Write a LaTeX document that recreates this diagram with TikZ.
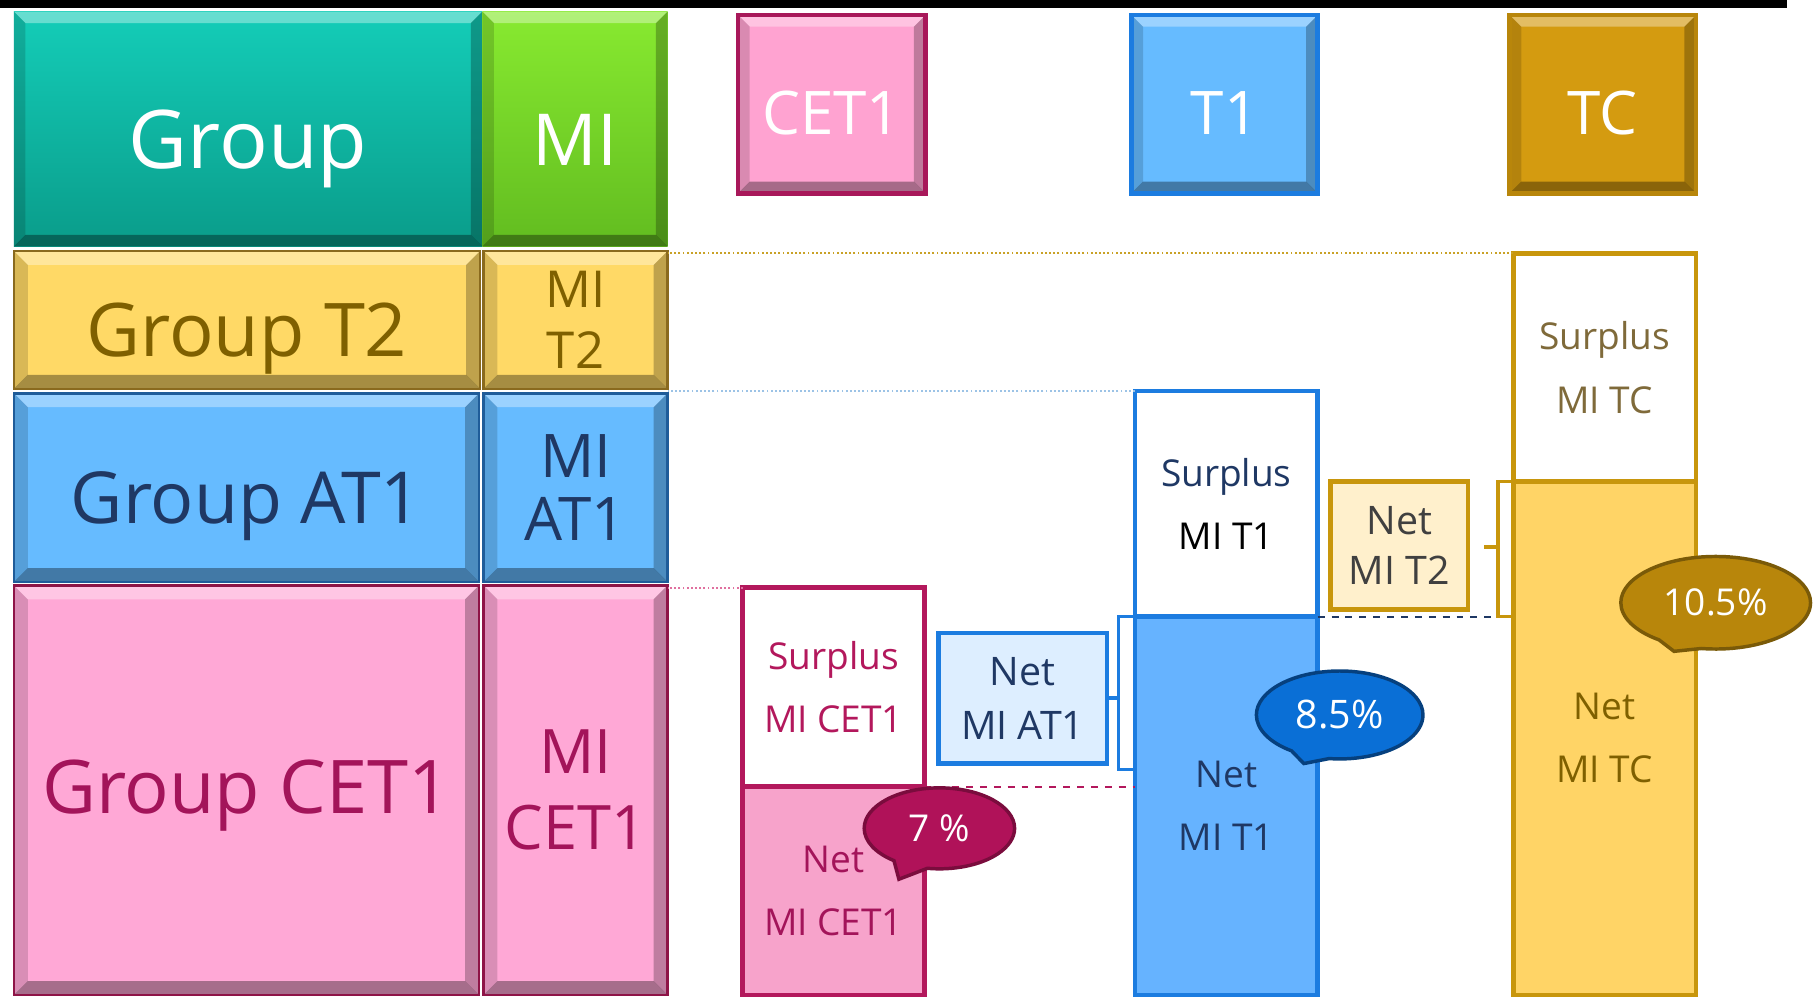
\documentclass[tikz,border=0pt]{standalone}
\usepackage{fontspec}
\setmainfont{Open Sans}
\usetikzlibrary{shapes.callouts,calc}
\definecolor{tealT}{HTML}{14CDB8}\definecolor{tealB}{HTML}{0A9C8A}
\definecolor{grnT}{HTML}{88EA30}\definecolor{grnB}{HTML}{62BC20}
\definecolor{goldF}{HTML}{FFD966}\definecolor{goldD}{HTML}{8A6A1E}\definecolor{goldTx}{HTML}{7F6000}
\definecolor{blueF}{HTML}{66BBFF}\definecolor{blueD}{HTML}{1F5C99}\definecolor{blueTx}{HTML}{1F3864}
\definecolor{pinkF}{HTML}{FFA8D6}\definecolor{pinkD}{HTML}{8E1447}\definecolor{pinkTx}{HTML}{A3145A}
\definecolor{hPinkF}{HTML}{FFA3D1}\definecolor{hPinkD}{HTML}{A8185A}
\definecolor{hBlueD}{HTML}{1C7CE0}
\definecolor{hGoldF}{HTML}{D49B10}\definecolor{hGoldD}{HTML}{B8860B}
\definecolor{sPink}{HTML}{B3185C}\definecolor{nPinkF}{HTML}{F7A3CB}
\definecolor{nAtF}{HTML}{DDEEFF}\definecolor{nT1F}{HTML}{66B3FF}
\definecolor{tGold}{HTML}{C8960C}\definecolor{nT2F}{HTML}{FFF0CC}\definecolor{nT2Tx}{HTML}{404040}
\definecolor{sTcTx}{HTML}{7F6A3A}\definecolor{nTcF}{HTML}{FFD466}
\definecolor{c7F}{HTML}{B01259}\definecolor{c7D}{HTML}{7A0C3D}
\definecolor{c8F}{HTML}{0A6FD6}\definecolor{c8D}{HTML}{06407E}
\definecolor{c10F}{HTML}{B8860B}\definecolor{c10D}{HTML}{7A5A08}
\definecolor{dotGold}{HTML}{C9A227}\definecolor{dotBlue}{HTML}{9CC3E6}\definecolor{dotPink}{HTML}{E0709F}
\newcommand\bx[7][]{%
 \pgfmathsetmacro\bxw{(#5-#3)/2}%
 \pgfmathsetmacro\bxh{(#6-#4)/2}%
 \node[#1,minimum width=\bxw pt,minimum height=\bxh pt,anchor=north west] (#2) at (#3,#4) {#7};}
\tikzset{
 bevel/.style={path picture={
   \path (path picture bounding box.north west) coordinate (bvnw)
         (path picture bounding box.north east) coordinate (bvne)
         (path picture bounding box.south west) coordinate (bvsw)
         (path picture bounding box.south east) coordinate (bvse);
   \fill[white,opacity=.35] (bvnw) -- (bvne) -- ([shift={(-#1,-#1)}]bvne) -- ([shift={(#1,-#1)}]bvnw) -- cycle;
   \fill[black,opacity=.35] (bvsw) -- (bvse) -- ([shift={(-#1,#1)}]bvse) -- ([shift={(#1,#1)}]bvsw) -- cycle;
   \fill[black,opacity=.15] (bvnw) -- ([shift={(#1,-#1)}]bvnw) -- ([shift={(#1,#1)}]bvsw) -- (bvsw) -- cycle;
   \fill[black,opacity=.25] (bvne) -- ([shift={(-#1,-#1)}]bvne) -- ([shift={(-#1,#1)}]bvse) -- (bvse) -- cycle;
 }},
 bevel/.default=5pt,
 cell/.style={rectangle,inner sep=0pt,outer sep=0pt,align=center},
 flat/.style={cell,line width=2pt},
 callbub/.style={ellipse callout,inner sep=0pt,callout pointer arc=28,line width=1.5pt,text=white,font=\fontsize{16}{20}\selectfont},
 small/.style={font=\fontsize{16}{27.5}\selectfont},
}
\begin{document}
\begin{tikzpicture}[x=0.5pt,y=-0.5pt]
\useasboundingbox (0,0) rectangle (1568,862);
\fill[black] (0,0) rectangle (1545,7);
% left stack
\bx[cell,bevel,top color=tealT,bottom color=tealB,text=white,font=\fontsize{35}{40}\selectfont,text height=34.5pt,text depth=0pt]{grp}{12}{10}{417}{213}{Group}
\bx[cell,bevel,top color=grnT,bottom color=grnB,text=white,font=\fontsize{31}{36}\selectfont,text height=31.6pt,text depth=0pt]{mi}{417}{10}{577}{213}{MI}
\bx[cell,bevel=6pt,fill=goldF,draw=goldD,line width=1pt,text=goldTx,font=\fontsize{32}{36}\selectfont,text height=31.4pt,text depth=0pt]{gt2}{12}{217}{415}{336}{Group T2}
\bx[cell,bevel=6pt,fill=goldF,draw=goldD,line width=1pt,text=goldTx,font=\fontsize{22}{26}\selectfont]{mit2}{418}{217}{577}{336}{MI\\T2}
\bx[cell,bevel=6pt,fill=blueF,draw=blueD,line width=1pt,text=blueTx,font=\fontsize{31}{36}\selectfont,text height=30.6pt,text depth=0pt]{gat1}{12}{340}{414}{503}{Group AT1}
\bx[cell,bevel=6pt,fill=blueF,draw=blueD,line width=1pt,text=blueTx,font=\fontsize{26}{27.5}\selectfont]{miat1}{418}{340}{577}{503}{MI\\AT1}
\bx[cell,bevel=6pt,fill=pinkF,draw=pinkD,line width=1pt,text=pinkTx,font=\fontsize{32}{36}\selectfont,text height=20pt,text depth=0pt]{gcet1}{12}{506}{414}{860}{Group CET1}
\bx[cell,bevel=6pt,fill=pinkF,draw=pinkD,line width=1pt,text=pinkTx,font=\fontsize{26.5}{33}\selectfont]{micet1}{418}{506}{577}{860}{MI\\CET1}
% headers
\bx[cell,bevel,fill=hPinkF,draw=hPinkD,line width=2pt,text=white,font=\fontsize{26}{30}\selectfont,text height=26.6pt,text depth=0pt]{hcet1}{638}{13}{800}{167}{CET1}
\bx[cell,bevel,fill=blueF,draw=hBlueD,line width=2pt,text=white,font=\fontsize{26}{30}\selectfont,text height=26.6pt,text depth=0pt]{ht1}{978}{13}{1139}{167}{T1}
\bx[cell,bevel,fill=hGoldF,draw=hGoldD,line width=2pt,text=white,font=\fontsize{26}{30}\selectfont,text height=26.6pt,text depth=0pt]{htc}{1305}{13}{1466}{167}{TC}
% columns
\bx[flat,fill=white,draw=sPink,text=sPink,small]{scet1}{642}{508}{799}{680}{Surplus\\MI CET1}
\bx[flat,fill=nPinkF,draw=sPink,text=pinkTx,small]{ncet1}{642}{680}{799}{860}{Net\\MI CET1}
\bx[flat,fill=nAtF,draw=hBlueD,text=blueTx,font=\fontsize{17}{23.5}\selectfont]{nat1}{811}{547}{957}{660}{Net\\MI AT1}
\bx[flat,fill=white,draw=hBlueD,small]{st1}{981}{338}{1139}{533}{\textcolor{blueTx}{Surplus}\\\textcolor{black}{MI T1}}
\bx[flat,fill=nT1F,draw=hBlueD,text=blueTx,small]{nt1}{981}{533}{1139}{860}{Net\\MI T1}
\bx[flat,fill=nT2F,draw=tGold,text=nT2Tx,font=\fontsize{17}{22}\selectfont]{nt2}{1150}{416}{1269}{527}{Net\\MI T2}
\bx[flat,fill=white,draw=tGold,text=sTcTx,small]{stc}{1308}{219}{1466}{416}{Surplus\\MI TC}
\bx[flat,fill=nTcF,draw=tGold,text=goldTx,small]{ntc}{1308}{416}{1466}{860}{Net\\MI TC}
% guide lines
\draw[dotGold,densely dotted,line width=0.8pt] (stc.north west) -- (stc.north west -| mit2.east);
\draw[dotBlue,densely dotted,line width=0.8pt] (st1.north west) -- (st1.north west -| miat1.east);
\draw[dotPink,densely dotted,line width=0.8pt] (scet1.north west) -- (scet1.north west -| micet1.east);
\draw[sPink,dashed,line width=0.8pt] (scet1.south east) -- (scet1.south east -| nt1.west);
\draw[blueTx,dashed,line width=0.8pt] (st1.south east) -- ($(st1.south east -| ntc.west)+(-12,0)$);
% brackets
\draw[hBlueD,line width=1.5pt] (nt1.north west) -- ++(-14,0) -- ++(0,132) -- ++(14,0);
\draw[hBlueD,line width=1.5pt] (nat1.east) -- ++(10,0);
\draw[tGold,line width=1.5pt] (ntc.north west) -- ++(-13,0) -- ++(0,117) -- ++(13,0);
\draw[tGold,line width=1.5pt] ($(ntc.north west)+(-13,57)$) -- ++(-12,0);
% callouts
\node[callbub,fill=c7F,draw=c7D,minimum width=65pt,minimum height=35pt,callout absolute pointer={(777,760)}] (p7) at (812,716) {7 \%};
\node[callbub,fill=c8F,draw=c8D,minimum width=72pt,minimum height=38pt,font=\fontsize{17}{20}\selectfont,callout absolute pointer={(1127,660)}] (p85) at (1158,618) {8.5\%};
\node[callbub,fill=c10F,draw=c10D,minimum width=82pt,minimum height=40pt,callout absolute pointer={(1447,563)}] (p105) at (1483,521) {10.5\%};
\end{tikzpicture}
\end{document}
